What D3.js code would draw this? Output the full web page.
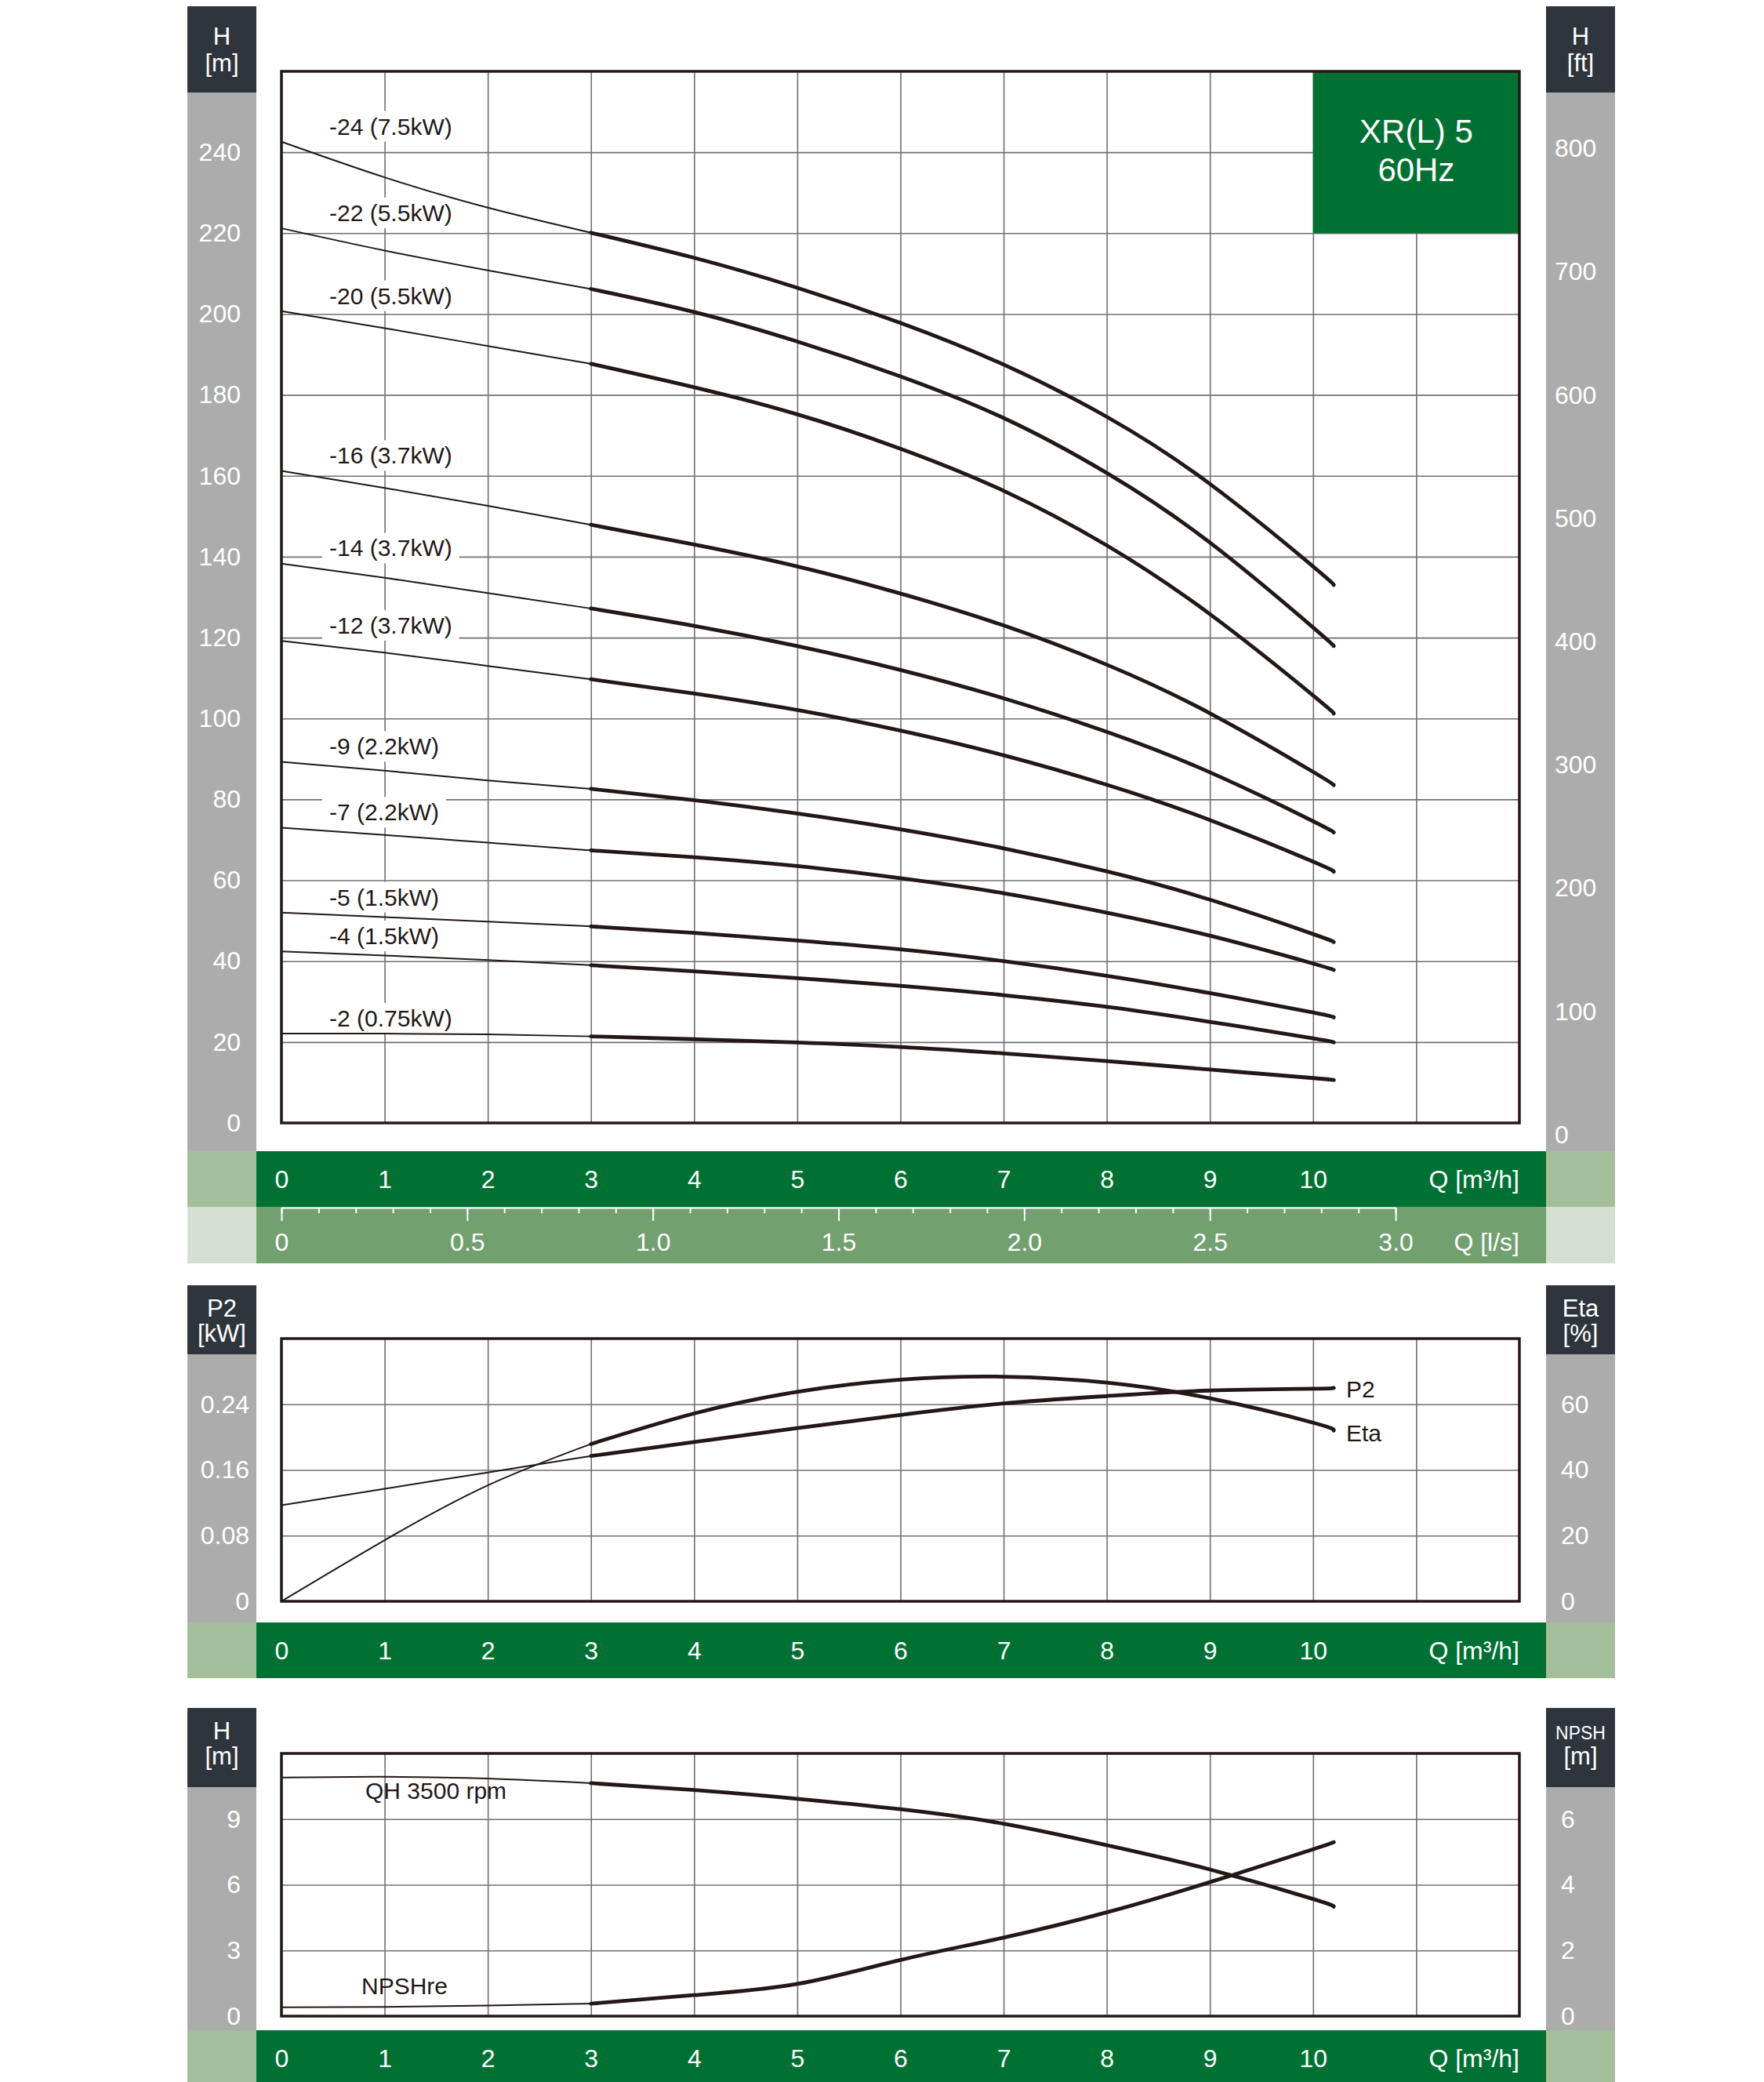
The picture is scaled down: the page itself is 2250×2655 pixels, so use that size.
<!DOCTYPE html>
<html lang="en">

<head>
  <meta charset="UTF-8">
  <title>XR(L) 5 60Hz</title>
  <script src="https://d3js.org/d3.v7.min.js"></script>
  <style>
    body { margin: 0; background: #fff; }
    svg text { font-family: "Liberation Sans", Arial, sans-serif; }
    .gridlines line { stroke: #707070; stroke-width: 1.6; }
    .gridlines path { display: none; }
  </style>
</head>

<body>
  <svg id="pump" width="2250" height="2655"></svg>
  <script>
    // flow points (m3/h)
    const flowPoints = [0, 1, 2, 3, 4, 5, 6, 7, 8, 9, 10, 10.2];
    const flowTicks = [0, 1, 2, 3, 4, 5, 6, 7, 8, 9, 10];
    const litreTicks = [0, 0.5, 1.0, 1.5, 2.0, 2.5, 3.0];

    // head per stage count [m]
    const h24 = [242.6, 233.8, 226.3, 220.1, 213.9, 206.5, 197.8, 187.5, 174.6, 158.0, 137.6, 133.0];
    const h22 = [221.2, 215.7, 210.8, 206.2, 200.5, 193.2, 184.6, 174.3, 160.7, 143.5, 122.5, 117.9];
    const h20 = [200.7, 196.5, 192.1, 187.7, 181.9, 175.2, 166.7, 156.3, 142.8, 125.8, 105.7, 101.2];
    const h16 = [161.2, 157.0, 152.6, 147.9, 143.0, 137.6, 130.9, 123.0, 113.3, 101.3, 86.8, 83.5];
    const h14 = [138.3, 134.8, 131.0, 127.2, 122.9, 117.9, 112.0, 105.0, 96.7, 86.7, 74.6, 71.8];
    const h12 = [119.2, 116.3, 113.0, 109.7, 106.2, 102.1, 97.0, 90.9, 83.6, 74.9, 64.6, 62.1];
    const h9 = [89.3, 87.1, 84.7, 82.6, 79.8, 76.5, 72.6, 67.9, 62.2, 55.2, 46.7, 44.7];
    const h7 = [73.0, 71.2, 69.3, 67.4, 65.7, 63.5, 60.5, 56.8, 52.0, 46.3, 39.4, 37.8];
    const h5 = [52.0, 50.9, 49.8, 48.6, 47.0, 45.1, 42.9, 40.0, 36.4, 32.1, 27.3, 26.1];
    const h4 = [42.4, 41.4, 40.3, 39.0, 37.5, 35.8, 33.9, 31.6, 28.7, 25.0, 20.9, 19.9];
    const h2 = [22.1, 22.1, 21.9, 21.4, 20.7, 19.9, 18.8, 17.2, 15.3, 13.2, 11.1, 10.6];
    const stageNames = ["-24 (7.5kW)", "-22 (5.5kW)", "-20 (5.5kW)", "-16 (3.7kW)", "-14 (3.7kW)",
      "-12 (3.7kW)", "-9 (2.2kW)", "-7 (2.2kW)", "-5 (1.5kW)", "-4 (1.5kW)", "-2 (0.75kW)"];
    const stageHeads = [h24, h22, h20, h16, h14, h12, h9, h7, h5, h4, h2];
    const headTicksM = [0, 20, 40, 60, 80, 100, 120, 140, 160, 180, 200, 220, 240];
    const headTicksFt = [0, 100, 200, 300, 400, 500, 600, 700, 800];

    // power / efficiency of one stage
    const p2Values = [0.117, 0.137, 0.157, 0.177, 0.194, 0.211, 0.227, 0.241, 0.250, 0.2567, 0.259, 0.260];
    const etaValues = [0, 18.6, 35.3, 47.9, 57.2, 63.8, 67.5, 68.4, 66.6, 61.8, 54.4, 52.0];
    const p2Ticks = [0, 0.08, 0.16, 0.24];
    const etaTicks = [0, 20, 40, 60];

    // single stage head and NPSH
    const qhValues = [10.9, 10.93, 10.85, 10.64, 10.33, 9.93, 9.45, 8.79, 7.81, 6.7, 5.35, 5.0];
    const npshValues = [0.27, 0.28, 0.32, 0.38, 0.64, 0.98, 1.71, 2.39, 3.16, 4.08, 5.08, 5.3];
    const hTicksSmall = [0, 3, 6, 9];
    const npshTicks = [0, 2, 4, 6];

    const svg = d3.select("svg#pump");
    const ink = "#231815";
    const darkGreen = "#007133";
    const headerColor = "#2f353d";
    const greyCol = "#acacac";

    const xScale = d3.scaleLinear().domain([0, 12]).range([359, 1938]);
    const colLeft = [239, 327];
    const colRight = [1972, 2060];

    const line = (yScale) => d3.line()
      .x(d => xScale(d.q))
      .y(d => yScale(d.v))
      .curve(d3.curveNatural);

    function pts(values) {
      return flowPoints.map((q, i) => ({ q: q, v: values[i] }));
    }

    // thin part up to Q=3, heavy part after it
    function drawCurve(g, values, yScale) {
      const all = pts(values);
      g.append("path").datum(all.filter(d => d.q <= 3))
        .attr("d", line(yScale))
        .attr("fill", "none").attr("stroke", ink).attr("stroke-width", 2);
      g.append("path").datum(all.filter(d => d.q >= 3))
        .attr("d", line(yScale))
        .attr("fill", "none").attr("stroke", ink).attr("stroke-width", 4.8)
        .attr("stroke-linecap", "round");
    }

    function sideColumns(top, headerBottom, bandTop, leftLines, rightLines, rightSmall) {
      const tall = headerBottom - top > 105;
      [[colLeft, leftLines, false], [colRight, rightLines, rightSmall]].forEach(([c, lines, small]) => {
        svg.append("rect").attr("x", c[0]).attr("y", top)
          .attr("width", c[1] - c[0]).attr("height", headerBottom - top).attr("fill", headerColor);
        svg.append("rect").attr("x", c[0]).attr("y", headerBottom)
          .attr("width", c[1] - c[0]).attr("height", bandTop - headerBottom).attr("fill", greyCol);
        lines.forEach((t, i) => {
          svg.append("text")
            .attr("x", (c[0] + c[1]) / 2)
            .attr("y", top + (tall ? 49 : 40) + i * (tall ? 34 : 32))
            .attr("text-anchor", "middle")
            .attr("fill", "#fff")
            .attr("font-size", (small && i === 0) ? 23 : 31)
            .text(t);
        });
      });
    }

    function band(y0, y1, fill, sideFill) {
      svg.append("rect").attr("x", colLeft[1]).attr("y", y0)
        .attr("width", colRight[0] - colLeft[1]).attr("height", y1 - y0).attr("fill", fill);
      [colLeft, colRight].forEach(c => {
        svg.append("rect").attr("x", c[0]).attr("y", y0)
          .attr("width", c[1] - c[0]).attr("height", y1 - y0).attr("fill", sideFill);
      });
    }

    function flowAxis(yCenter) {
      const g = svg.append("g")
        .attr("transform", `translate(0,${yCenter})`)
        .call(d3.axisBottom(xScale).tickValues(flowTicks).tickSize(0).tickFormat(d3.format("d")));
      g.select(".domain").remove();
      g.selectAll("text").attr("y", 0).attr("dy", "0.36em")
        .attr("fill", "#fff").attr("font-size", 32).attr("font-family", null);
      svg.append("text").attr("x", xScale(12)).attr("y", yCenter).attr("dy", "0.36em")
        .attr("text-anchor", "end").attr("fill", "#fff").attr("font-size", 32)
        .text("Q [m³/h]");
    }

    function grid(yScale, hTicks, top, bottom) {
      svg.append("g").attr("class", "gridlines")
        .attr("transform", `translate(0,${bottom})`)
        .call(d3.axisBottom(xScale).tickValues(d3.range(1, 12)).tickSize(-(bottom - top)).tickFormat(""));
      svg.append("g").attr("class", "gridlines")
        .attr("transform", `translate(${xScale(0)},0)`)
        .call(d3.axisLeft(yScale).tickValues(hTicks).tickSize(-(xScale(12) - xScale(0))).tickFormat(""));
    }

    function valueAxis(scale, ticks, fmt, x, side, dy) {
      const ax = side === "left" ? d3.axisLeft(scale) : d3.axisRight(scale);
      const g = svg.append("g")
        .attr("transform", `translate(${x},${dy || 0})`)
        .call(ax.tickValues(ticks).tickSize(0).tickPadding(0).tickFormat(fmt));
      g.select(".domain").remove();
      g.selectAll("text").attr("fill", "#fff").attr("font-size", 32).attr("font-family", null);
    }

    function frame(top, bottom) {
      svg.append("rect").attr("x", xScale(0)).attr("y", top)
        .attr("width", xScale(12) - xScale(0)).attr("height", bottom - top)
        .attr("fill", "none").attr("stroke", ink).attr("stroke-width", 3.5);
    }

    // ---------- top panel: H-Q per stage count ----------
    const topY = d3.scaleLinear().domain([0, 260]).range([1432, 91]);
    const ftY = d3.scaleLinear().domain([0, 260 / 0.3048]).range([1432, 91]);

    sideColumns(8, 118, 1468, ["H", "[m]"], ["H", "[ft]"], false);
    band(1468, 1539, darkGreen, "#a3bf9a");
    band(1539, 1611, "#72a06e", "#d3dfd0");
    grid(topY, d3.range(20, 260, 20), 91, 1432);

    svg.append("rect")
      .attr("x", xScale(10)).attr("y", topY(260))
      .attr("width", xScale(12) - xScale(10)).attr("height", topY(220) - topY(260))
      .attr("fill", darkGreen);
    svg.append("text").attr("x", (xScale(10) + xScale(12)) / 2).attr("y", 182)
      .attr("text-anchor", "middle").attr("fill", "#fff").attr("font-size", 42).text("XR(L) 5");
    svg.append("text").attr("x", (xScale(10) + xScale(12)) / 2).attr("y", 231)
      .attr("text-anchor", "middle").attr("fill", "#fff").attr("font-size", 42).text("60Hz");

    const labelLayer = svg.append("g");
    const curveLayer = svg.append("g");
    stageHeads.forEach((vals, i) => {
      drawCurve(curveLayer, vals, topY);
      const t = labelLayer.append("text")
        .attr("x", xScale(0) + 61)
        .attr("y", topY(vals[0]) - 20)
        .attr("dy", "0.36em")
        .attr("fill", ink)
        .attr("font-size", 30)
        .text(stageNames[i]);
      const b = t.node().getBBox();
      labelLayer.insert("rect", "text")
        .attr("x", b.x - 9).attr("y", b.y - 3)
        .attr("width", b.width + 18).attr("height", b.height + 6)
        .attr("fill", "#fff");
    });
    frame(91, 1432);

    valueAxis(topY, headTicksM, d3.format("d"), 307, "left");
    valueAxis(ftY, headTicksFt, d3.format("d"), 1983, "right", 15);
    flowAxis(1503);

    // l/s scale on the second band
    const lsScale = d3.scaleLinear().domain([0, 3.0]).range([xScale(0), xScale(10.8)]);
    const minorAxis = svg.append("g").attr("transform", "translate(0,1540)")
      .call(d3.axisBottom(lsScale).tickValues(d3.range(0, 3.01, 0.1)).tickSize(7).tickSizeOuter(0).tickFormat(""));
    minorAxis.selectAll("line, path").attr("stroke", "#fff").attr("stroke-width", 2);
    const majorAxis = svg.append("g").attr("transform", "translate(0,1540)")
      .call(d3.axisBottom(lsScale).tickValues(litreTicks).tickSize(17).tickSizeOuter(0)
        .tickFormat(d => d === 0 ? "0" : d3.format(".1f")(d)));
    majorAxis.select(".domain").remove();
    majorAxis.selectAll("line").attr("stroke", "#fff").attr("stroke-width", 2);
    majorAxis.selectAll("text").attr("y", 43).attr("dy", "0.36em")
      .attr("fill", "#fff").attr("font-size", 32).attr("font-family", null);
    svg.append("text").attr("x", xScale(12)).attr("y", 1583).attr("dy", "0.36em")
      .attr("text-anchor", "end").attr("fill", "#fff").attr("font-size", 32).text("Q [l/s]");

    // ---------- middle panel: P2 and Eta ----------
    const p2Y = d3.scaleLinear().domain([0, 0.32]).range([2042, 1707]);
    const etaY = d3.scaleLinear().domain([0, 80]).range([2042, 1707]);

    sideColumns(1639, 1727, 2069, ["P2", "[kW]"], ["Eta", "[%]"], false);
    band(2069, 2140, darkGreen, "#a3bf9a");
    grid(p2Y, [0.08, 0.16, 0.24], 1707, 2042);
    drawCurve(svg, p2Values, p2Y);
    drawCurve(svg, etaValues, etaY);
    frame(1707, 2042);
    svg.append("text").attr("x", 1717).attr("y", 1782).attr("fill", ink).attr("font-size", 30).text("P2");
    svg.append("text").attr("x", 1717).attr("y", 1838).attr("fill", ink).attr("font-size", 30).text("Eta");
    valueAxis(p2Y, p2Ticks, d => d === 0 ? "0" : d3.format(".2f")(d), 318, "left");
    valueAxis(etaY, etaTicks, d3.format("d"), 1991, "right");
    flowAxis(2104);

    // ---------- bottom panel: QH and NPSH ----------
    const qhY = d3.scaleLinear().domain([0, 12]).range([2571, 2236]);
    const npshY = d3.scaleLinear().domain([0, 8]).range([2571, 2236]);

    sideColumns(2178, 2279, 2589, ["H", "[m]"], ["NPSH", "[m]"], true);
    band(2589, 2655, darkGreen, "#a3bf9a");
    grid(qhY, [3, 6, 9], 2236, 2571);
    drawCurve(svg, qhValues, qhY);
    drawCurve(svg, npshValues, npshY);
    frame(2236, 2571);
    svg.append("text").attr("x", 466).attr("y", 2294).attr("fill", ink).attr("font-size", 30).text("QH 3500 rpm");
    svg.append("text").attr("x", 461).attr("y", 2543).attr("fill", ink).attr("font-size", 30).text("NPSHre");
    valueAxis(qhY, hTicksSmall, d3.format("d"), 307, "left");
    valueAxis(npshY, npshTicks, d3.format("d"), 1991, "right");
    flowAxis(2624);
  </script>
</body>

</html>
